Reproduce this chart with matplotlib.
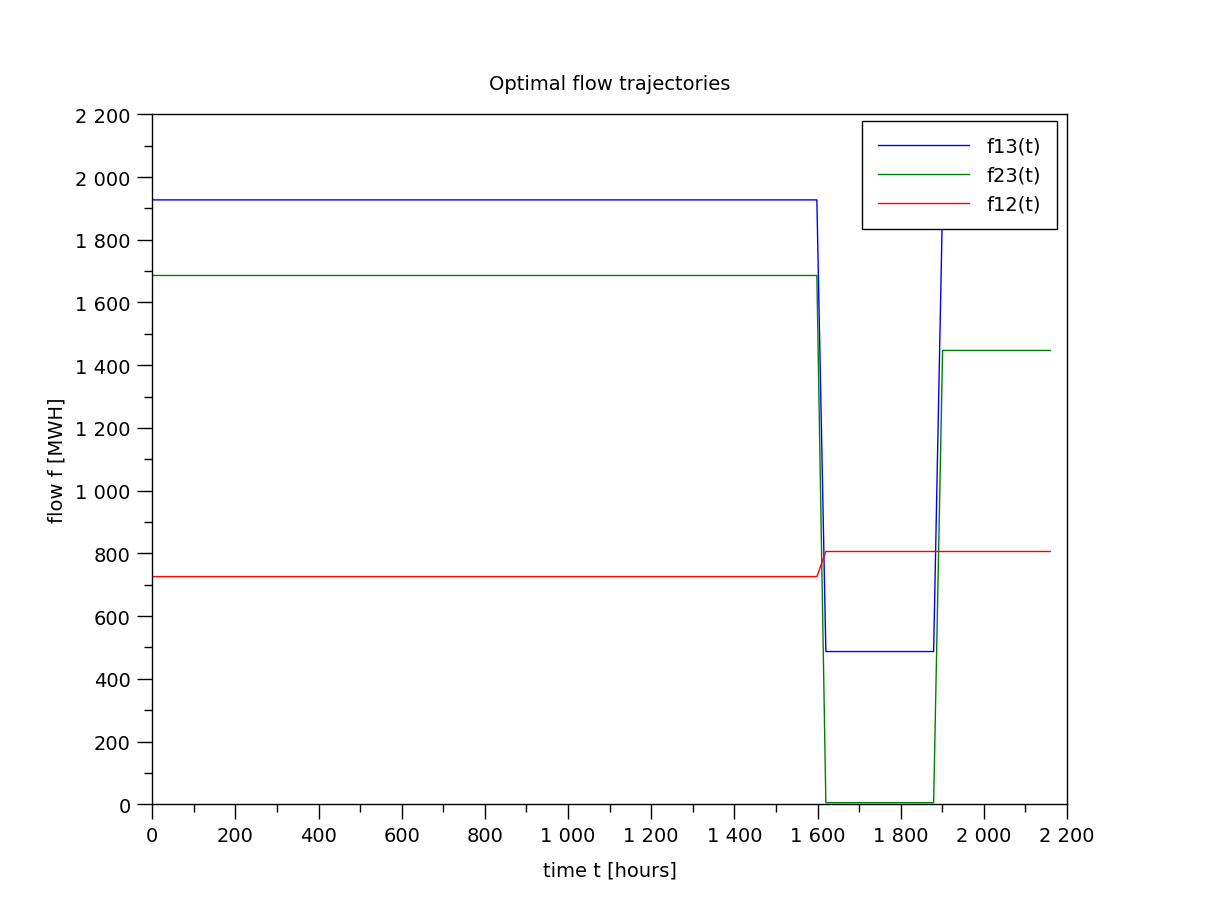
import matplotlib
matplotlib.use("Agg")
import matplotlib.pyplot as plt
from matplotlib.ticker import MultipleLocator, FuncFormatter

# Data
t = [0, 1598.4, 1620, 1879.2, 1900.8, 2160]
f13 = [1927, 1927, 487, 487, 1927, 1927]
f23 = [1686, 1686, 5, 5, 1447, 1447]
f12 = [726, 726, 806, 806, 806, 806]
labels = ["f13(t)", "f23(t)", "f12(t)"]
colors = ["#0000ff", "#008000", "#ff0000"]

plt.rcParams['font.family'] = ['DejaVu Sans']

fig = plt.figure(figsize=(12.2, 9.2), dpi=100)
ax = fig.add_axes([0.1248, 0.1247, 0.7498, 0.75])

for y, lab, c in zip([f13, f23, f12], labels, colors):
    ax.plot(t, y, color=c, lw=1.0, label=lab)

ax.set_xlim(0, 2200)
ax.set_ylim(0, 2200)
fmt = FuncFormatter(lambda v, p: f"{int(round(v)):,}".replace(",", " "))
for axis in (ax.xaxis, ax.yaxis):
    axis.set_major_locator(MultipleLocator(200))
    axis.set_minor_locator(MultipleLocator(100))
    axis.set_major_formatter(fmt)
ax.tick_params(which='major', direction='out', length=11, width=1, labelsize=14)
ax.tick_params(axis='x', which='major', pad=5)
ax.tick_params(axis='y', which='major', pad=4.5)
ax.tick_params(which='minor', direction='out', length=5.5, width=1)
for s in ax.spines.values():
    s.set_linewidth(1.0)

ax.set_title("Optimal flow trajectories", fontsize=14, pad=18.5)
ax.set_xlabel("time t [hours]", fontsize=14, labelpad=10.5)
ax.set_ylabel("flow f [MWH]", fontsize=14, labelpad=6)

leg = ax.legend(loc='upper right', bbox_to_anchor=(0.9887, 0.9903), fontsize=14,
                fancybox=False, framealpha=1, edgecolor='black',
                handlelength=4.7, handletextpad=0.9, borderpad=0.8,
                labelspacing=0.52, borderaxespad=0)
leg.get_frame().set_linewidth(1.0)

fig.savefig("out.png", dpi=100)
